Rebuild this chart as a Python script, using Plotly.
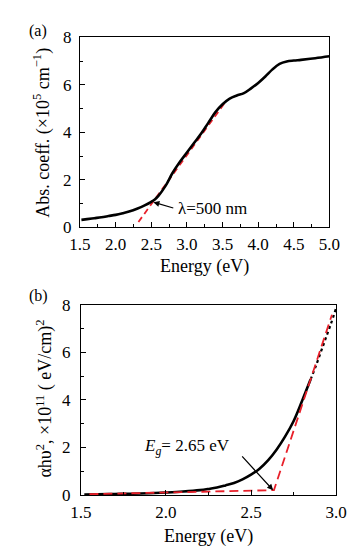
import plotly.graph_objects as go

# Panel (a): absorption coefficient vs energy
energy_a = [1.52, 1.6, 1.7, 1.8, 1.9, 2.0, 2.1, 2.2, 2.3, 2.4, 2.5, 2.55, 2.6, 2.7, 2.8, 2.9, 3.0,
            3.1, 3.2, 3.3, 3.4, 3.5, 3.6, 3.7, 3.8, 3.9, 4.0, 4.1, 4.2, 4.3, 4.4, 4.5, 4.6, 4.8, 5.0]
abs_coeff = [0.32, 0.35, 0.39, 0.43, 0.48, 0.53, 0.6, 0.68, 0.79, 0.92, 1.08, 1.18, 1.33, 1.75, 2.3, 2.75, 3.15,
             3.55, 3.95, 4.4, 4.85, 5.18, 5.42, 5.55, 5.65, 5.85, 6.08, 6.35, 6.65, 6.88, 6.98, 7.02, 7.05, 7.12, 7.2]
fit_a_x = [2.32, 3.54]
fit_a_y = [0.23, 5.28]

# Panel (b): (alpha h nu)^2 vs energy
energy_b = [1.52, 1.6, 1.7, 1.8, 1.9, 2.0, 2.1, 2.2, 2.25, 2.3, 2.35, 2.4, 2.45, 2.5, 2.55, 2.6, 2.65,
            2.7, 2.75, 2.8, 2.85]
ahv2 = [0.02, 0.03, 0.04, 0.05, 0.07, 0.1, 0.14, 0.2, 0.25, 0.31, 0.4, 0.5, 0.65, 0.85, 1.1, 1.45, 1.9,
        2.45, 3.1, 3.95, 4.85]
energy_b_dot = [2.85, 2.88, 2.91, 2.94, 2.97, 3.0]
ahv2_dot = [4.85, 5.4, 6.0, 6.6, 7.2, 7.85]
fit_b_x = [1.55, 2.635, 2.976]
fit_b_y = [0.03, 0.2, 7.58]

FONT = "Liberation Serif"
W, H = 355, 550
TICK_SIZE = 17
TITLE_SIZE = 18

fig = go.Figure()
fig.add_trace(go.Scatter(x=fit_a_x, y=fit_a_y, mode="lines",
                         line=dict(color="#e8202a", width=1.8, dash="6px,4px"), xaxis="x", yaxis="y"))
fig.add_trace(go.Scatter(x=energy_a, y=abs_coeff, mode="lines", line=dict(color="black", width=2.6, shape="spline"),
                         xaxis="x", yaxis="y"))
fig.add_trace(go.Scatter(x=energy_b, y=ahv2, mode="lines", line=dict(color="black", width=2.6, shape="spline"),
                         xaxis="x2", yaxis="y2"))
fig.add_trace(go.Scatter(x=energy_b_dot, y=ahv2_dot, mode="lines", line=dict(color="black", width=2.2, dash="dot", shape="spline"),
                         xaxis="x2", yaxis="y2"))
fig.add_trace(go.Scatter(x=fit_b_x, y=fit_b_y, mode="lines",
                         line=dict(color="#e8202a", width=1.8, dash="9px,5px"), xaxis="x2", yaxis="y2"))

axis_common = dict(showline=True, linecolor="black", linewidth=1.2, mirror=True, ticks="inside",
                   ticklen=5, tickcolor="black", showgrid=False, zeroline=False,
                   tickfont=dict(family=FONT, size=TICK_SIZE, color="black"))

y_a0, y_a1 = (H - 218) / H, (H - 21) / H
y_b0, y_b1 = (H - 495) / H, (H - 298) / H

fig.update_layout(
    width=W, height=H, margin=dict(l=0, r=0, t=0, b=0),
    paper_bgcolor="white", plot_bgcolor="white", showlegend=False,
    font=dict(family=FONT, color="black"),
    xaxis=dict(domain=[65 / W, 331 / W], range=[1.5, 5.0], tickvals=[1.5, 2, 2.5, 3, 3.5, 4, 4.5, 5],
               ticktext=["1.5", "2.0", "2.5", "3.0", "3.5", "4.0", "4.5", "5.0"],
               minor=dict(ticks="inside", dtick=0.25, tick0=1.5, ticklen=3, tickcolor="black"),
               ticklabelstandoff=1, anchor="y", **axis_common),
    yaxis=dict(domain=[y_a0, y_a1], range=[0, 8], dtick=2,
               minor=dict(ticks="inside", dtick=1, ticklen=3, tickcolor="black"),
               ticklabelstandoff=4, anchor="x", **axis_common),
    xaxis2=dict(domain=[66 / W, 338 / W], range=[1.5, 3.0], tickvals=[1.5, 2, 2.5, 3],
                ticktext=["1.5", "2.0", "2.5", "3.0"],
                minor=dict(ticks="inside", dtick=0.25, tick0=1.5, ticklen=3, tickcolor="black"),
                ticklabelstandoff=2, anchor="y2", **axis_common),
    yaxis2=dict(domain=[y_b0, y_b1], range=[0, 8], dtick=2,
                minor=dict(ticks="inside", dtick=1, ticklen=3, tickcolor="black"),
                ticklabelstandoff=6, anchor="x2", **axis_common),
    annotations=[
        dict(text="Energy (eV)", x=(65 + 331) / 2 / W, y=(H - 258) / H, xref="paper", yref="paper",
             xanchor="center", yanchor="middle", showarrow=False, font=dict(family=FONT, size=TITLE_SIZE)),
        dict(text="Energy (eV)", x=(66 + 338) / 2 / W, y=(H - 538) / H, xref="paper", yref="paper",
             xanchor="center", yanchor="middle", showarrow=False, font=dict(family=FONT, size=TITLE_SIZE)),
        dict(text="Abs. coeff. (×10<sup>5</sup> cm<sup>−1</sup>)", x=25 / W, y=(y_a0 + y_a1) / 2, xref="paper", yref="paper",
             xanchor="center", yanchor="middle", textangle=-90, showarrow=False, font=dict(family=FONT, size=TITLE_SIZE)),
        dict(text="αhυ<sup>2</sup>, ×10<sup>11</sup> ( eV/cm)<sup>2</sup>", x=28 / W, y=(H - 395) / H, xref="paper", yref="paper",
             xanchor="center", yanchor="middle", textangle=-90, showarrow=False, font=dict(family=FONT, size=TITLE_SIZE)),
        dict(text="(a)", x=8 / W, y=(H - 15) / H, xref="paper", yref="paper", xanchor="left", yanchor="middle",
             showarrow=False, font=dict(family=FONT, size=16)),
        dict(text="(b)", x=8 / W, y=(H - 289) / H, xref="paper", yref="paper", xanchor="left", yanchor="middle",
             showarrow=False, font=dict(family=FONT, size=16)),
        dict(text="λ=500 nm", x=2.84, y=0.8, xref="x", yref="y", xanchor="left", yanchor="middle",
             showarrow=False, font=dict(family=FONT, size=TICK_SIZE)),
        dict(text="", x=2.53, y=1.06, xref="x", yref="y", ax=2.83, ay=0.8, axref="x", ayref="y",
             showarrow=True, arrowhead=2, arrowsize=1, arrowwidth=1.2, arrowcolor="black"),
        dict(text="<i>E<sub>g</sub></i>= 2.65 eV", x=1.86, y=2.0, xref="x2", yref="y2", xanchor="left", yanchor="middle",
             showarrow=False, font=dict(family=FONT, size=TICK_SIZE)),
        dict(text="", x=2.63, y=0.2, xref="x2", yref="y2", ax=2.44, ay=1.68, axref="x2", ayref="y2",
             showarrow=True, arrowhead=2, arrowsize=1, arrowwidth=1.2, arrowcolor="black"),
    ],
)

fig.write_html("out.html")
